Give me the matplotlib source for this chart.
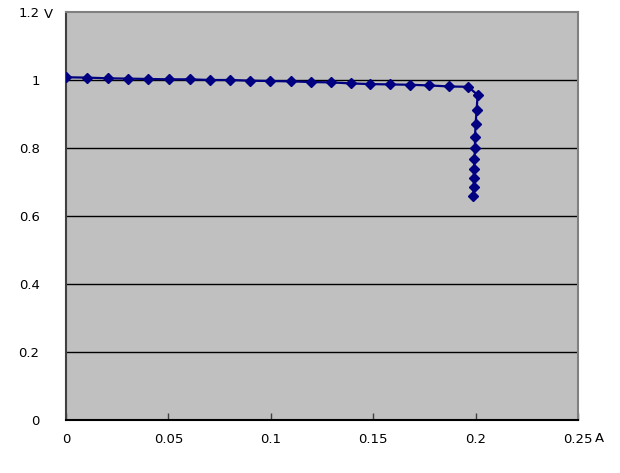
import matplotlib
matplotlib.use("Agg")
import matplotlib.pyplot as plt

# current (A) and voltage (V)
current = [0.0, 0.0104, 0.0204, 0.0304, 0.0402, 0.0504, 0.0605, 0.0703,
           0.0801, 0.0898, 0.0996, 0.1097, 0.1195, 0.1292, 0.139, 0.1484,
           0.1582, 0.168, 0.1774, 0.187, 0.1964,
           0.201, 0.2005, 0.200, 0.1997, 0.1997, 0.1994, 0.1992, 0.1991,
           0.1991, 0.1989]
voltage = [1.008, 1.007, 1.005, 1.004, 1.003, 1.002, 1.002, 1.000,
           1.000, 0.998, 0.997, 0.996, 0.994, 0.993, 0.990, 0.988,
           0.987, 0.986, 0.984, 0.981, 0.980,
           0.956, 0.912, 0.870, 0.831, 0.799, 0.767, 0.738, 0.711,
           0.686, 0.660]

x_ticks = [0, 0.05, 0.1, 0.15, 0.2, 0.25]
x_labels = ["0", "0.05", "0.1", "0.15", "0.2", "0.25"]
y_ticks = [0, 0.2, 0.4, 0.6, 0.8, 1.0, 1.2]
y_labels = ["0", "0.2", "0.4", "0.6", "0.8", "1", "1.2"]

plt.rcParams['font.family'] = ['DejaVu Sans']

fig = plt.figure(figsize=(6.2, 4.73), dpi=100)
ax = fig.add_axes([66 / 620, 53 / 473, 512 / 620, 408 / 473])
ax.set_facecolor('#C0C0C0')

for y in y_ticks[1:-1]:
    ax.axhline(y, color='black', linewidth=1.0, zorder=1)

ax.plot(current, voltage, color='#000080', linewidth=1.6, marker='D',
        markersize=5.5, markerfacecolor='#000080', markeredgecolor='#000080',
        zorder=3)

ax.set_xlim(0, 0.25)
ax.set_ylim(0, 1.2)
ax.set_xticks(x_ticks)
ax.set_xticklabels(x_labels)
ax.set_yticks(y_ticks)
ax.set_yticklabels(y_labels)

ax.tick_params(axis='x', direction='in', length=5, width=1, color='#404040',
               pad=9, labelsize=9.5)
ax.tick_params(axis='y', length=0, pad=19, labelsize=9.5)

ax.spines['left'].set_color('#404040')
ax.spines['bottom'].set_color('black')
ax.spines['top'].set_color('#808080')
ax.spines['right'].set_color('#808080')
for s in ax.spines.values():
    s.set_linewidth(1.5)

# unit labels next to the last tick labels
fig.text(44 / 620, 1 - 14 / 473, "V", ha='left', va='center', fontsize=9.5)
fig.text(595 / 620, 1 - 438 / 473, "A", ha='left', va='center', fontsize=9.5)

fig.savefig("out.png", dpi=100)
